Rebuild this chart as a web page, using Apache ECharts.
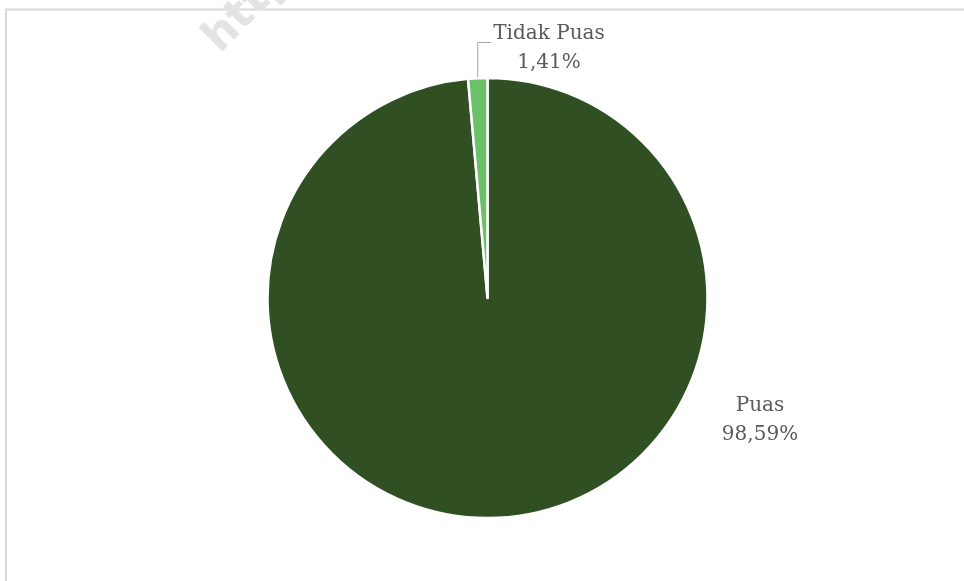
<!DOCTYPE html>
<html>
<head>
<meta charset="utf-8">
<title>Kepuasan</title>
<script src="https://cdn.jsdelivr.net/npm/echarts@6/dist/echarts.min.js"></script>
<style>
  html, body { margin: 0; padding: 0; background: #ffffff; }
  #chart { width: 964px; height: 581px; }
</style>
</head>
<body>
<div id="chart"></div>
<script>
// Satisfaction share, in percent
var categories = ['Puas', 'Tidak Puas'];
var shares = [98.59, 1.41];
var sliceColors = ['#304f23', '#6cc06a'];

var labelFont = '"DejaVu Serif", "Liberation Serif", serif';

function pct(v) {
  return v.toFixed(2).replace('.', ',') + '%';
}

var chart = echarts.init(document.getElementById('chart'), null, { renderer: 'canvas' });

var option = {
  backgroundColor: '#ffffff',
  animation: false,
  graphic: [
    {
      // frame: left and top edges only, the rest runs off the page
      type: 'rect',
      shape: { x: 6, y: 9.5, width: 2000, height: 2000 },
      style: { fill: 'none', stroke: '#d9d9d9', lineWidth: 2 },
      silent: true,
      z: 0
    },
    {
      type: 'text',
      x: 196,
      y: 30,
      rotation: Math.PI / 4,
      style: {
        text: 'https://',
        font: 'bold 44px "DejaVu Sans", sans-serif',
        fill: '#e3e3e3'
      },
      silent: true,
      z: 0
    }
  ],
  series: [
    {
      type: 'pie',
      center: [487.5, 298],
      radius: 220,
      startAngle: 90,
      clockwise: true,
      avoidLabelOverlap: false,
      itemStyle: { borderColor: '#ffffff', borderWidth: 2.5 },
      label: {
        show: true,
        position: 'outside',
        color: '#595959',
        fontFamily: labelFont,
        fontSize: 20,
        lineHeight: 29,
        align: 'center',
        formatter: function (p) { return p.name + '\n' + pct(p.value); }
      },
      labelLine: {
        show: true,
        length: 20,
        length2: 12,
        lineStyle: { color: '#a6a6a6', width: 1 }
      },
      labelLayout: function (params) {
        if (params.dataIndex === 1) {
          var start = params.labelLinePoints ? params.labelLinePoints[0] : [477.8, 78];
          return {
            x: 549,
            y: 48,
            align: 'center',
            verticalAlign: 'middle',
            labelLinePoints: [start, [start[0], 42.5], [491, 42.5]]
          };
        }
        return { x: 760, y: 420, align: 'center', verticalAlign: 'middle' };
      },
      emphasis: { disabled: true },
      data: categories.map(function (name, i) {
        return {
          name: name,
          value: shares[i],
          itemStyle: { color: sliceColors[i] },
          labelLine: { show: i === 1 }
        };
      })
    }
  ]
};

chart.setOption(option);
</script>
</body>
</html>
